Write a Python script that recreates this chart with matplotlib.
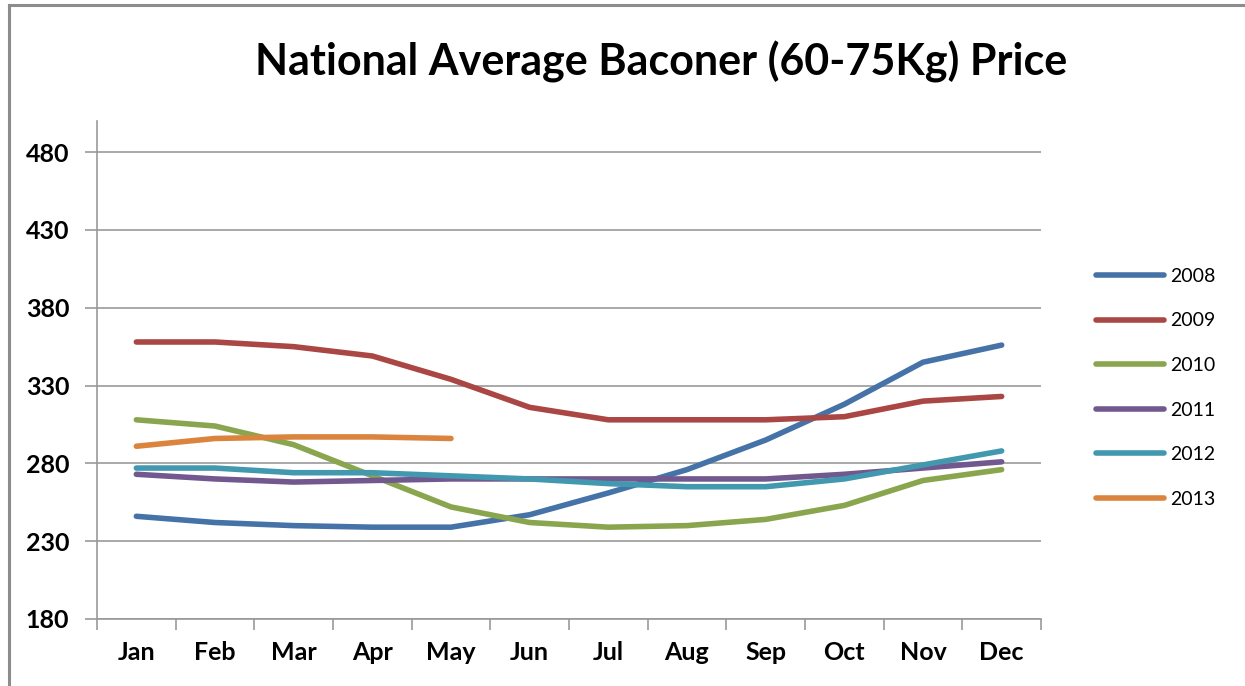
import matplotlib
matplotlib.use("Agg")
import matplotlib.pyplot as plt
from matplotlib.lines import Line2D

months = ["Jan", "Feb", "Mar", "Apr", "May", "Jun", "Jul", "Aug", "Sep", "Oct", "Nov", "Dec"]
y2008 = [246, 242, 240, 239, 239, 247, 261, 276, 295, 318, 345, 356]
y2009 = [358, 358, 355, 349, 334, 316, 308, 308, 308, 310, 320, 323]
y2010 = [308, 304, 292, 272, 252, 242, 239, 240, 244, 253, 269, 276]
y2011 = [273, 270, 268, 269, 270, 270, 270, 270, 270, 273, 277, 281]
y2012 = [277, 277, 274, 274, 272, 270, 267, 265, 265, 270, 279, 288]
y2013 = [291, 296, 297, 297, 296]
years = ["2008", "2009", "2010", "2011", "2012", "2013"]
series = [y2008, y2009, y2010, y2011, y2012, y2013]
colors = ["#4572A7", "#AA4643", "#89A54E", "#71588F", "#4198AF", "#DB843D"]
yticks = [180, 230, 280, 330, 380, 430, 480]

W, H = 1245, 686
fig = plt.figure(figsize=(W / 100, H / 100), dpi=100)
fig.patch.set_facecolor("white")

# outer chart border
fig.add_artist(Line2D([9 / W, 9 / W], [0, 1 - 5 / H], transform=fig.transFigure, color="#8c8c8c", lw=2.2))
fig.add_artist(Line2D([9 / W, 1], [1 - 5 / H, 1 - 5 / H], transform=fig.transFigure, color="#8c8c8c", lw=2.2))

ax = fig.add_axes([97 / W, 1 - 619 / H, (1041 - 97) / W, (619 - 121) / H])
ax.set_xlim(-0.5, 11.5)
ax.set_ylim(180, 500)

for vals, c, lab in zip(series, colors, years):
    ax.plot(range(len(vals)), vals, color=c, lw=4.0, solid_capstyle="round",
            solid_joinstyle="round", label=lab, zorder=3)

ax.set_yticks(yticks)
ax.set_yticklabels([str(v) for v in yticks])
ax.set_xticks(range(12))
ax.set_xticklabels(months)
ax.set_xticks([i - 0.5 for i in range(13)], minor=True)
ax.tick_params(axis="x", which="major", length=0, pad=16)
ax.tick_params(axis="x", which="minor", length=8, width=1.2, color="#999999", direction="out")
ax.tick_params(axis="y", length=9, width=1.2, color="#999999", pad=11)
for lbl in ax.get_xticklabels() + ax.get_yticklabels():
    lbl.set_fontfamily("Lato")
    lbl.set_fontweight("bold")
    lbl.set_fontsize(18)
    lbl.set_color("black")

ax.grid(axis="y", color="#999999", lw=1.2, zorder=1)
for s in ["top", "right"]:
    ax.spines[s].set_visible(False)
for s in ["left", "bottom"]:
    ax.spines[s].set_color("#999999")
    ax.spines[s].set_linewidth(1.2)

fig.text(661 / W, 1 - 62 / H, "National Average Baconer (60-75Kg) Price", ha="center", va="center",
         fontfamily="Lato", fontweight="bold", fontsize=31, color="black")

leg = fig.legend(loc="upper left", bbox_to_anchor=(1088 / W, 1 - 260 / H), frameon=False,
                 prop={"family": "Lato", "size": 14}, handlelength=3.5, handletextpad=0.35,
                 labelspacing=1.42, borderaxespad=0)

fig.savefig("out.png", dpi=100)
